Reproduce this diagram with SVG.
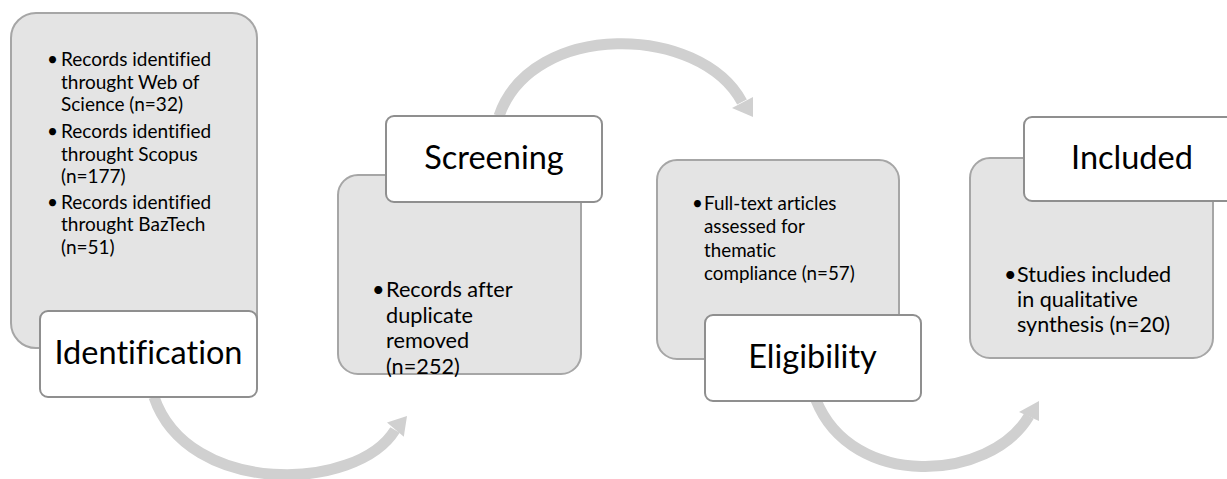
<svg xmlns="http://www.w3.org/2000/svg" width="1227" height="479" viewBox="0 0 1227 479">
<style>
.bg{fill:#ffffff}
.card{fill:#e4e4e4;stroke:#a6a6a6;stroke-width:2}
.lab{fill:#ffffff;stroke:#8f8f8f;stroke-width:2}
.arc{fill:none;stroke:#d0d0d0;stroke-width:11}
.head{fill:#d0d0d0}
text{font-family:Lato,"Liberation Sans",sans-serif;fill:#000000;font-variant-ligatures:none}
.t1{font-size:19px}
.t2{font-size:21.7px}
.t3{font-size:18.8px}
.t4{font-size:21.5px}
.big{font-size:32.5px;text-anchor:middle}
</style>
<rect class="bg" x="0" y="0" width="1227" height="479"/>
<g id="connectors">
<path class="arc" d="M154,397 C188,497 357,492 395,430"/>
<polygon class="head" points="407,416 387,422.6 403.8,436.8"/>
<path class="arc" d="M499,116 C532,20 700,24 742,102"/>
<polygon class="head" points="753,117 732,108 753,97"/>
<path class="arc" d="M816,400 C852,490 990,482 1029,416"/>
<polygon class="head" points="1039,401 1019,412 1039,421"/>
</g>
<g id="identification">
<rect class="card" x="11" y="13" width="246" height="335" rx="25"/>
<text class="t1" x="47" y="66">•</text>
<text class="t1" x="61" y="66">Records identified</text>
<text class="t1" x="61" y="88.5">throught Web of</text>
<text class="t1" x="61" y="111">Science (n=32)</text>
<text class="t1" x="47" y="138">•</text>
<text class="t1" x="61" y="138"> Records identified</text>
<text class="t1" x="61" y="160.5">throught Scopus</text>
<text class="t1" x="61" y="183">(n=177)</text>
<text class="t1" x="47" y="208.5">•</text>
<text class="t1" x="61" y="208.5">Records identified</text>
<text class="t1" x="61" y="231">throught BazTech</text>
<text class="t1" x="61" y="253.5">(n=51)</text>
<rect class="lab" x="40" y="311" width="217" height="86" rx="8"/>
<text class="big" x="148.5" y="364">Identification</text>
</g>
<g id="screening">
<rect class="card" x="338" y="175" width="243" height="199" rx="20"/>
<text class="t2" x="372" y="297">•</text>
<text class="t2" x="386" y="297">Records after</text>
<text class="t2" x="386" y="322.5">duplicate</text>
<text class="t2" x="386" y="348">removed</text>
<text class="t2" x="386" y="373.5">(n=252)</text>
<rect class="lab" x="386" y="116" width="216" height="86" rx="8"/>
<text class="big" x="494" y="169">Screening</text>
</g>
<g id="eligibility">
<rect class="card" x="657" y="160" width="242" height="199" rx="20"/>
<text class="t3" x="692" y="210">•</text>
<text class="t3" x="704" y="210">Full-text articles</text>
<text class="t3" x="704" y="233">assessed for</text>
<text class="t3" x="704" y="256.5">thematic</text>
<text class="t3" x="704" y="280">compliance (n=57)</text>
<rect class="lab" x="705" y="315" width="216" height="86" rx="8"/>
<text class="big" x="812.5" y="368">Eligibility</text>
</g>
<g id="included">
<rect class="card" x="970" y="158" width="243" height="200" rx="20"/>
<text class="t4" x="1004" y="281.5">•</text>
<text class="t4" x="1017" y="281.5">Studies included</text>
<text class="t4" x="1017" y="306.5">in qualitative</text>
<text class="t4" x="1017" y="331.5">synthesis (n=20)</text>
<rect class="lab" x="1024" y="117" width="216" height="84" rx="8"/>
<text class="big" x="1132" y="169">Included</text>
</g>
</svg>
